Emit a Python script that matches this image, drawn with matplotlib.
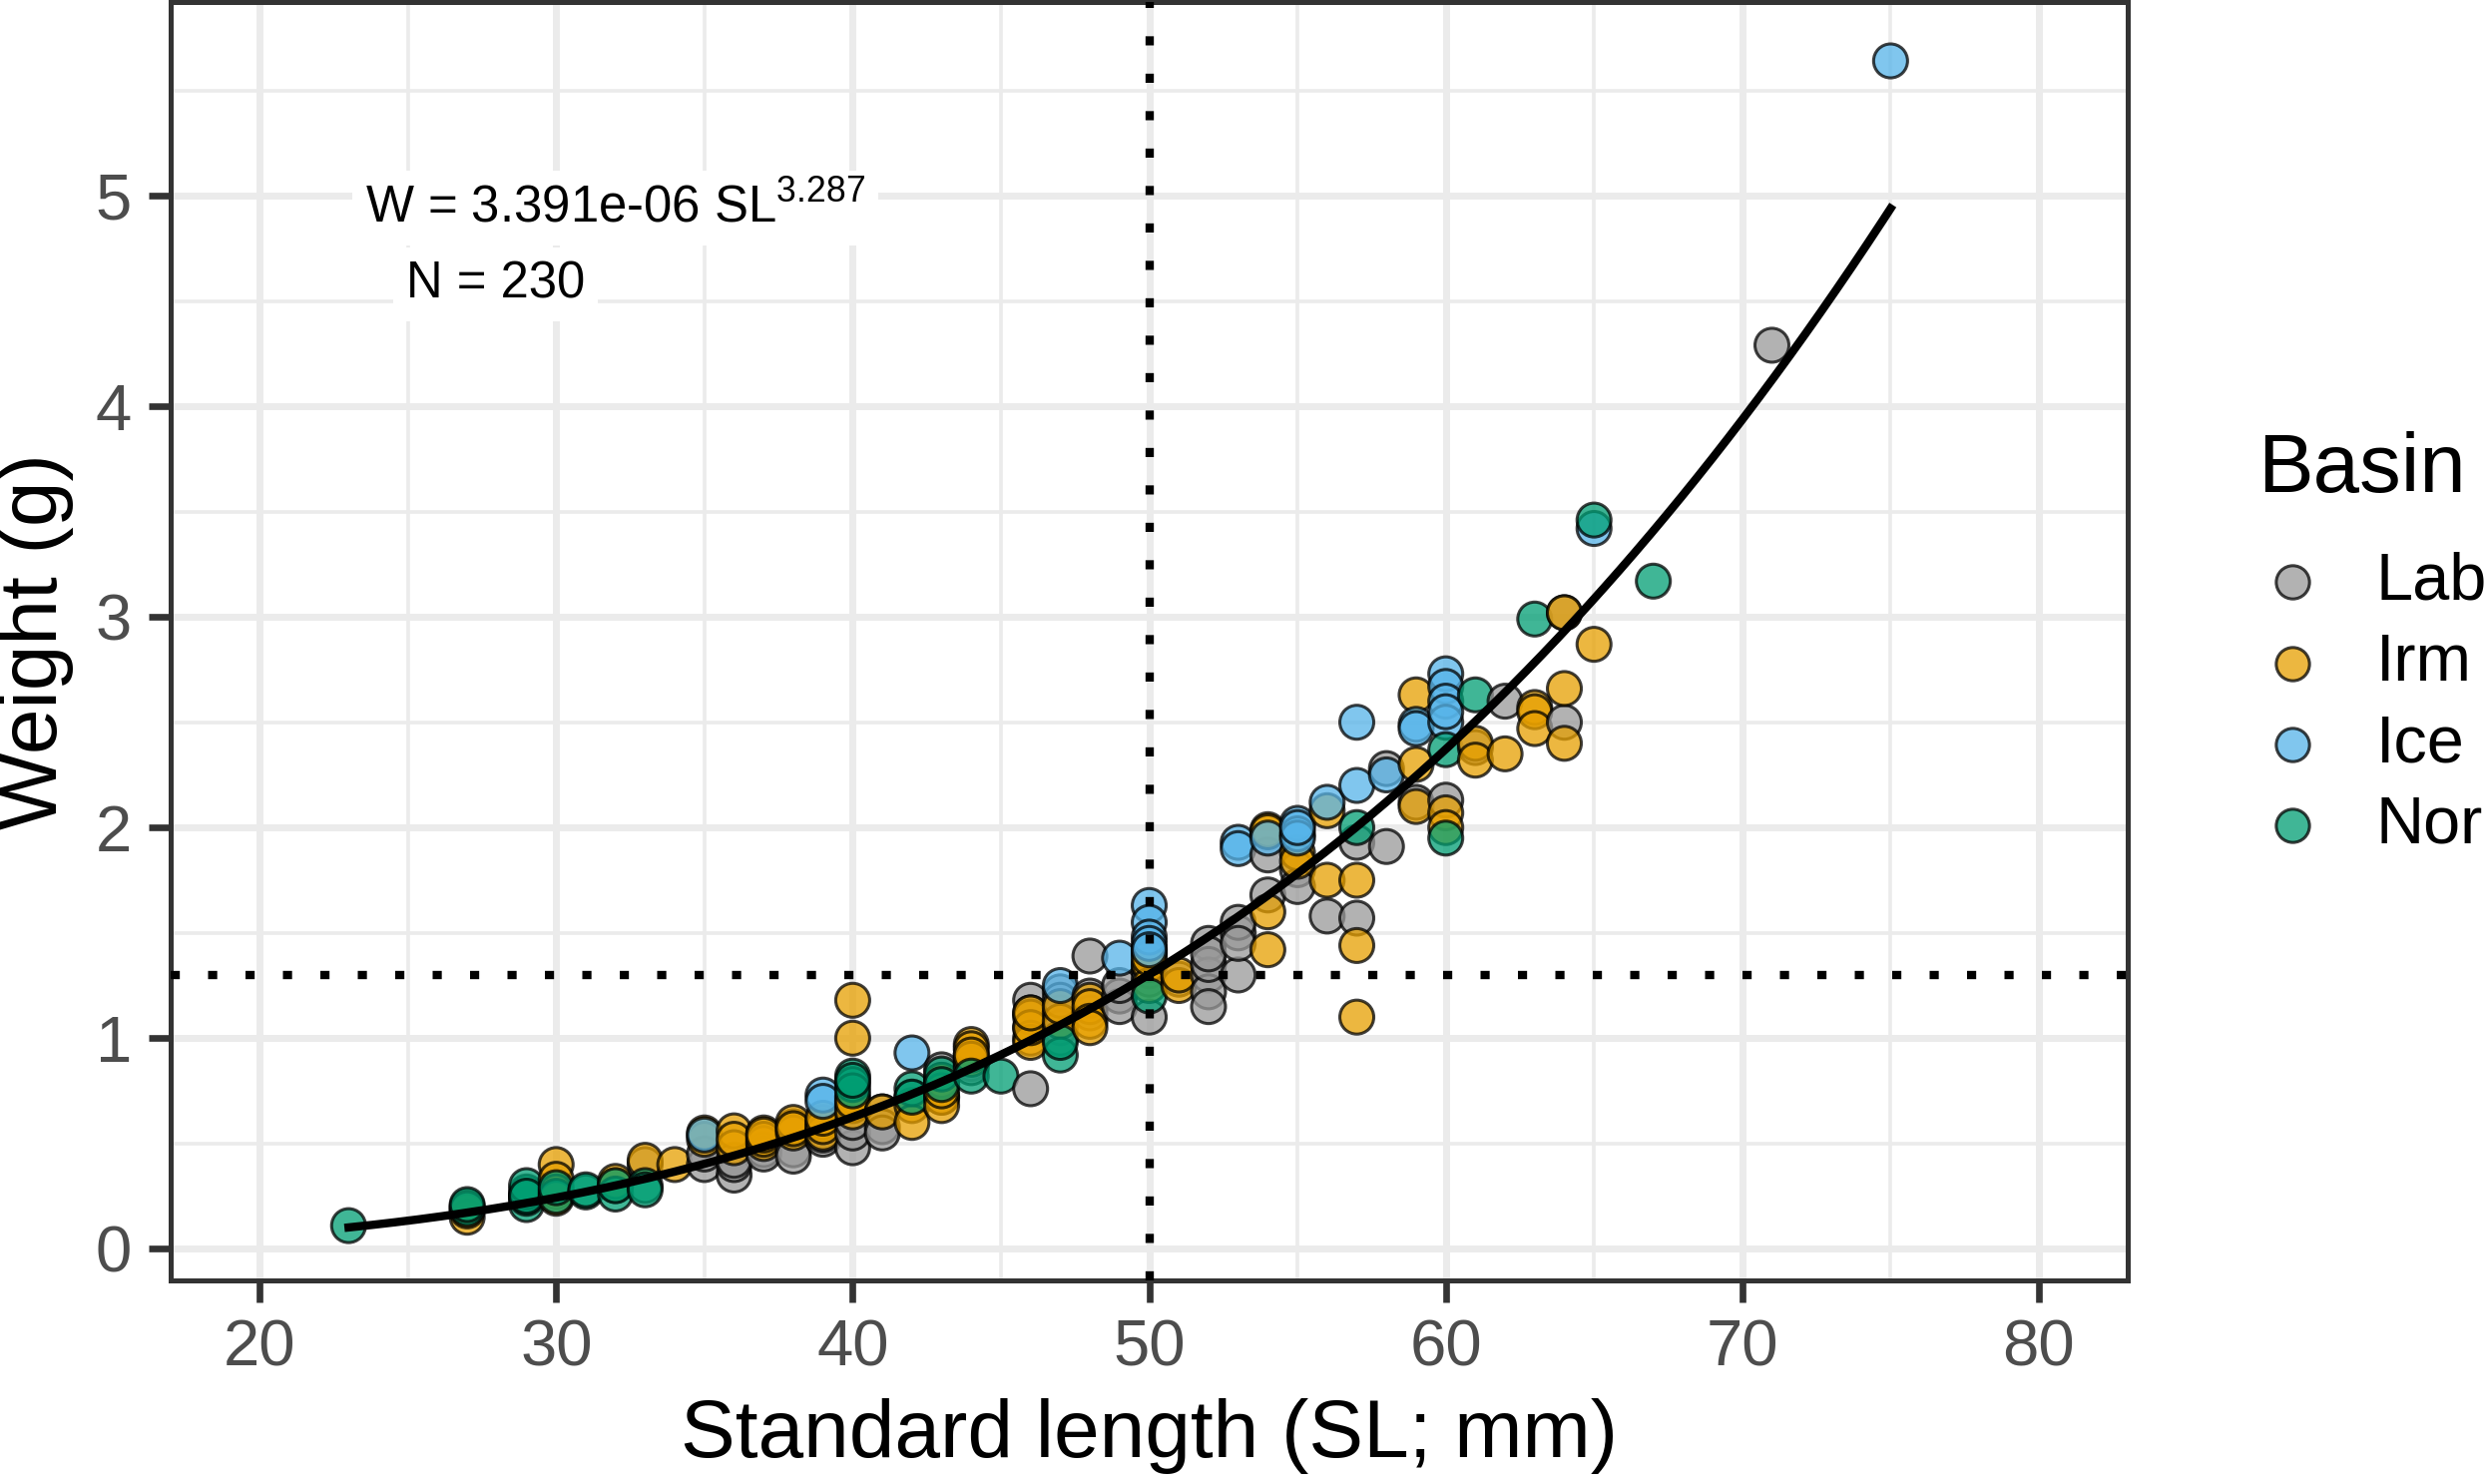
import numpy as np
import matplotlib
matplotlib.use("Agg")
import matplotlib.pyplot as plt
from matplotlib.lines import Line2D

plt.rcParams['font.family'] = ['Liberation Sans', 'DejaVu Sans']

# Valores (comprimento padrão em mm, peso em g)
lab_sl = [33, 35, 35, 36, 36, 36, 37, 37, 38, 38, 39, 39, 39, 40, 40, 40, 41, 41,
          41, 42, 43, 43, 43, 43, 44, 44, 44, 46, 46, 46, 46, 47, 47, 47, 47, 47,
          48, 48, 48, 49, 49, 49, 50, 50, 50, 50, 51, 52, 52, 52, 52, 52, 52, 53,
          53, 53, 53, 54, 54, 55, 55, 56, 57, 57, 58, 58, 59, 60, 61, 62, 64, 64,
          71]
lab_w = [0.40, 0.40, 0.45, 0.35, 0.40, 0.42, 0.47, 0.45, 0.47, 0.44, 0.52, 0.56,
         0.54, 0.48, 0.55, 0.60, 0.65, 0.58, 0.55, 0.72, 0.85, 0.78, 0.72, 0.80,
         0.92, 0.88, 0.86, 0.76, 1.18, 1.12, 1.05, 1.22, 1.12, 1.05, 1.00, 1.18,
         1.39, 1.12, 1.20, 1.20, 1.15, 1.25, 1.35, 1.32, 1.10, 1.28, 1.28, 1.45,
         1.30, 1.22, 1.15, 1.35, 1.40, 1.50, 1.55, 1.30, 1.45, 1.87, 1.68, 1.80,
         1.72, 1.58, 1.93, 1.57, 2.28, 1.91, 2.12, 2.13, 2.38, 2.60, 3.02, 2.50,
         4.29]

irm_sl = [27, 27, 27, 29, 30, 30, 30, 30, 32, 32, 33, 34, 35, 35, 36, 36, 36, 37,
          37, 37, 37, 38, 38, 38, 38, 39, 39, 39, 39, 40, 40, 40, 40, 40, 40, 41,
          42, 42, 43, 43, 43, 43, 44, 44, 44, 44, 46, 46, 46, 46, 46, 47, 47, 48,
          48, 48, 48, 50, 50, 50, 50, 50, 51, 51, 54, 54, 54, 54, 55, 55, 56, 56,
          57, 57, 57, 59, 59, 59, 60, 60, 61, 61, 62, 63, 63, 63, 64, 64, 64, 65]
irm_w = [0.15, 0.18, 0.20, 0.25, 0.40, 0.33, 0.27, 0.24, 0.30, 0.32, 0.42, 0.40,
         0.52, 0.55, 0.56, 0.48, 0.52, 0.55, 0.50, 0.52, 0.54, 0.58, 0.55, 0.60,
         0.57, 0.60, 0.55, 0.58, 0.62, 1.18, 1.00, 0.72, 0.68, 0.65, 0.70, 0.65,
         0.68, 0.60, 0.72, 0.68, 0.80, 0.75, 0.97, 0.95, 0.90, 0.92, 1.10, 1.00,
         0.98, 1.05, 1.12, 1.08, 1.15, 1.18, 1.15, 1.08, 1.05, 1.42, 1.40, 1.35,
         1.25, 1.38, 1.25, 1.30, 1.99, 1.98, 1.60, 1.42, 1.88, 1.84, 2.08, 1.75,
         1.75, 1.44, 1.10, 2.63, 2.30, 2.10, 2.07, 2.00, 2.40, 2.32, 2.35, 2.57,
         2.55, 2.47, 3.02, 2.66, 2.40, 2.87]

ice_sl = [35, 39, 39, 42, 47, 49, 50, 50, 50, 50, 50, 53, 53, 54, 55, 55, 55, 55,
          56, 57, 57, 58, 59, 59, 60, 60, 60, 60, 60, 65, 75]
ice_w = [0.54, 0.73, 0.70, 0.93, 1.25, 1.38, 1.63, 1.55, 1.48, 1.45, 1.42, 1.93,
         1.90, 1.95, 2.02, 1.97, 1.95, 2.00, 2.12, 2.50, 2.20, 2.25, 2.49, 2.47,
         2.73, 2.67, 2.60, 2.50, 2.55, 3.42, 5.64]

nor_sl = [23, 27, 27, 29, 29, 29, 29, 29, 30, 30, 31, 31, 32, 32, 33, 33, 40, 40,
          40, 40, 42, 42, 43, 43, 44, 45, 47, 47, 50, 57, 60, 60, 61, 63, 65, 67]
nor_w = [0.11, 0.19, 0.21, 0.21, 0.24, 0.27, 0.30, 0.25, 0.25, 0.29, 0.27, 0.28,
         0.26, 0.30, 0.30, 0.28, 0.82, 0.78, 0.75, 0.80, 0.76, 0.72, 0.83, 0.78,
         0.82, 0.82, 0.92, 0.98, 1.20, 2.00, 2.37, 1.95, 2.63, 2.99, 3.46, 3.17]

# Rótulos da legenda como aparecem (cortados na borda da figura)
bacias = ['Lab', 'Irm', 'Ice', 'Nor']
cores = ['#999999', '#E69F00', '#56B4E9', '#009E73']

# Ajuste W = a * SL^b
coef_a = 3.391e-06
coef_b = 3.287
n_total = 230
ref_sl = 50
ref_w = 1.3

fig = plt.figure(figsize=(12.445, 7.435), dpi=200)
ax = fig.add_axes([0.0687, 0.1372, 0.7879, 0.8615])

# Pontos ordenados pelo comprimento para misturar as cores como no original
sl = np.concatenate([lab_sl, irm_sl, ice_sl, nor_sl])
w = np.concatenate([lab_w, irm_w, ice_w, nor_w])
grupo = np.concatenate([np.full(len(lab_sl), 0), np.full(len(irm_sl), 1),
                        np.full(len(ice_sl), 2), np.full(len(nor_sl), 3)])
ordem = np.argsort(sl, kind='stable')
cores_pontos = [cores[g] for g in grupo[ordem]]
ax.scatter(sl[ordem], w[ordem], s=150, c=cores_pontos, alpha=0.75,
           edgecolors='black', linewidths=1.1, zorder=3)

x_curva = np.linspace(min(nor_sl), max(ice_sl), 200)
ax.plot(x_curva, coef_a * x_curva ** coef_b, color='black', lw=3.0, zorder=4)

pontilhado = (0, (1.1, 3.4))
ax.axvline(ref_sl, color='black', lw=3.0, linestyle=pontilhado, zorder=5)
ax.axhline(ref_w, color='black', lw=3.0, linestyle=pontilhado, zorder=5)

ax.set_xlim(17, 83)
ax.set_ylim(-0.15, 5.92)
ax.set_xticks(np.arange(20, 81, 10))
ax.set_xticks(np.arange(25, 80, 10), minor=True)
ax.set_yticks(np.arange(0, 6, 1))
ax.set_yticks(np.arange(0.5, 6, 1), minor=True)
ax.grid(which='major', color='#ebebeb', lw=2.5, zorder=0)
ax.grid(which='minor', color='#ebebeb', lw=1.3, zorder=0)
ax.set_axisbelow(True)
ax.tick_params(which='major', length=8, width=2.4, color='#333333',
               labelsize=23.5, labelcolor='#4d4d4d', pad=6)
ax.tick_params(which='minor', length=0)
for lado in ax.spines.values():
    lado.set_color('#333333')
    lado.set_linewidth(1.8)

ax.set_xlabel('Standard length (SL; mm)', fontsize=29.5, labelpad=7)
ax.set_ylabel('Weight (g)', fontsize=29.5, labelpad=8)

caixa = dict(boxstyle='square,pad=0.25', fc='white', ec='none')
ax.text(32, 4.94, r'W = 3.391e-06 SL$^{\mathregular{3.287}}$', fontsize=18.3,
        ha='center', va='center', bbox=caixa, zorder=6)
ax.text(27.95, 4.58, 'N = %d' % n_total, fontsize=18.3, ha='center',
        va='center', bbox=caixa, zorder=6)

# Legenda desenhada à mão na área à direita do painel
fig.text(0.9088, 0.6833, 'Basin', fontsize=30, ha='left', va='center')
y_chaves = [0.6079, 0.5528, 0.4983, 0.4438]
for cor, nome, yk in zip(cores, bacias, y_chaves):
    fig.add_artist(Line2D([0.9229], [yk], transform=fig.transFigure,
                          marker='o', linestyle='none', markersize=12,
                          markerfacecolor=cor, markeredgecolor='black',
                          markeredgewidth=1.1, alpha=0.75))
    fig.text(0.9566, yk, nome, fontsize=24, ha='left', va='center')

fig.savefig('out.png', dpi=200)
